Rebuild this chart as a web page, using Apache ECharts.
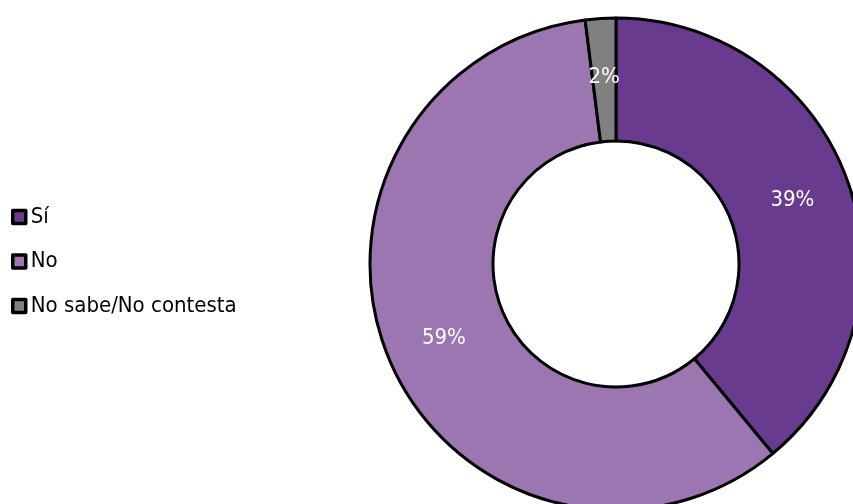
<!DOCTYPE html>
<html>
<head>
<meta charset="utf-8">
<script src="https://cdn.jsdelivr.net/npm/echarts@6/dist/echarts.min.js"></script>
<style>
  html, body { margin: 0; padding: 0; background: #fff; }
  #chart { width: 853px; height: 504px; }
</style>
</head>
<body>
<div id="chart"></div>
<script>
// Survey answers, shares in percent
const categories = ['Sí', 'No', 'No sabe/No contesta'];
const values = [39, 59, 2];
const colors = ['#693B8E', '#9B76B1', '#808080'];

const chart = echarts.init(document.getElementById('chart'));
const font = '"DejaVu Sans Condensed", "Liberation Sans Narrow", sans-serif';

chart.setOption({
  animation: false,
  color: colors,
  legend: {
    orient: 'vertical',
    left: 11,
    top: 206,
    padding: 0,
    itemWidth: 13,
    itemHeight: 13,
    itemGap: 22.5,
    icon: 'rect',
    itemStyle: { borderColor: '#000', borderWidth: 3.5 },
    textStyle: { fontFamily: font, fontSize: 22, color: '#000' },
    data: categories
  },
  series: [{
    type: 'pie',
    center: [616, 264],
    radius: [123, 246],
    startAngle: 90,
    clockwise: true,
    avoidLabelOverlap: false,
    itemStyle: { borderColor: '#000', borderWidth: 3 },
    label: {
      show: true,
      position: 'inside',
      formatter: '{d}%',
      color: '#fff',
      fontFamily: font,
      fontSize: 22
    },
    labelLine: { show: false },
    emphasis: { disabled: true },
    data: categories.map((name, i) => ({ name, value: values[i] }))
  }]
});
</script>
</body>
</html>
